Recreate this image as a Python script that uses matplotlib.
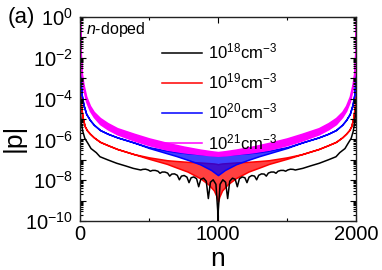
import numpy as np
import matplotlib
matplotlib.use("Agg")
import matplotlib.pyplot as plt
from matplotlib.lines import Line2D
from matplotlib.ticker import LogLocator, FuncFormatter, FixedLocator, NullFormatter

plt.rcParams['font.family'] = ['Liberation Sans', 'DejaVu Sans']
plt.rcParams['mathtext.fontset'] = 'custom'
plt.rcParams['mathtext.rm'] = 'Liberation Sans'
plt.rcParams['mathtext.it'] = 'Liberation Sans:italic'

# ---- data (left half, n = 0..1000, log10|p|); right half is the mirror image ----
mag_n   = [0, 6, 12, 25, 45, 72, 100, 145, 200, 270, 390, 500, 630, 750, 870, 950, 1000]
mag_up  = [0, -1.8, -2.7, -3.3, -3.9, -4.35, -4.65, -4.95, -5.2, -5.45, -5.72, -5.95, -6.17, -6.35, -6.5, -6.58, -6.62]
mag_low = [0, -2.0, -2.9, -3.55, -4.15, -4.6, -4.9, -5.25, -5.5, -5.75, -6.05, -6.28, -6.5, -6.63, -6.72, -6.78, -6.8]

blue_n   = [0, 12, 25, 45, 72, 100, 145, 200, 270, 390, 500, 630, 700, 780, 870, 950, 1000]
blue_up  = [-2.8, -3.8, -4.3, -4.75, -5.05, -5.28, -5.54, -5.72, -5.9, -6.15, -6.38, -6.55, -6.62, -6.68, -6.72, -6.76, -6.78]
blue_low = [-2.8, -3.8, -4.3, -4.75, -5.05, -5.28, -5.54, -5.72, -5.9, -6.15, -6.42, -6.68, -6.82, -7.0, -7.22, -7.5, -7.75]

red_n   = [0, 10, 20, 34, 50, 72, 100, 145, 200, 270, 390, 500, 630, 700, 780, 870, 930, 970, 990, 1000]
red_up  = [-3.8, -4.5, -4.95, -5.35, -5.55, -5.72, -5.9, -6.12, -6.28, -6.47, -6.72, -6.88, -7.02, -7.06, -7.1, -7.13, -7.16, -7.18, -7.2, -7.22]
red_low = [-3.8, -4.5, -4.95, -5.35, -5.55, -5.72, -5.9, -6.12, -6.28, -6.47, -6.72, -6.95, -7.2, -7.38, -7.58, -7.9, -8.2, -8.5, -8.8, -9.05]

black_n   = [0, 10, 20, 35, 58, 80, 118, 145, 200, 266, 330, 386, 440, 455, 475, 495, 510, 525, 545, 565,
             580, 595, 615, 635, 650, 665, 685, 705, 720, 735, 755, 775, 790, 805, 825, 845, 860, 875,
             895, 915, 930, 945, 965, 985, 998, 1000]
black_log = [-4.5, -5.2, -5.6, -5.95, -6.2, -6.45, -6.65, -6.85, -7.0, -7.17, -7.3, -7.42, -7.5, -7.47, -7.46, -7.5,
             -7.56, -7.52, -7.52, -7.56, -7.66, -7.6, -7.6, -7.65, -7.8, -7.7, -7.69, -7.76, -7.98, -7.8,
             -7.77, -7.85, -8.12, -7.88, -7.84, -7.93, -8.32, -7.96, -7.9, -8.05, -8.9, -8.1, -7.98, -8.2, -9.5, -12]

labels = [r'$10^{18}$cm$^{-3}$', r'$10^{19}$cm$^{-3}$', r'$10^{20}$cm$^{-3}$', r'$10^{21}$cm$^{-3}$']
colors = ['black', 'red', 'blue', 'magenta']
N_total = 2000


def mirror(n, v):
    n = np.asarray(n, float)
    v = np.asarray(v, float)
    nn = np.concatenate([n, (N_total - n[::-1])[1:]])
    vv = np.concatenate([v, v[::-1][1:]])
    return nn, 10.0 ** vv


fig = plt.figure(figsize=(3.82, 2.70), dpi=100)
ax = fig.add_axes([80/382, 1-221/270, 276/382, 204/270])

lw = 1.1
bn, bv = mirror(black_n, black_log)
ax.plot(bn, bv, color='black', lw=lw)

for n, up, low, c, a in [(red_n, red_up, red_low, 'red', 0.75),
                         (blue_n, blue_up, blue_low, 'blue', 0.75),
                         (mag_n, mag_up, mag_low, 'magenta', 1.0)]:
    nn, uu = mirror(n, up)
    _, ll = mirror(n, low)
    ax.fill_between(nn, ll, uu, facecolor=matplotlib.colors.to_rgba(c, a), edgecolor=c, lw=lw)

ax.set_yscale('log')
ax.set_xlim(0, 2000)
ax.set_ylim(1e-10, 1e0)

ax.xaxis.set_major_locator(FixedLocator([0, 1000, 2000]))
ax.xaxis.set_minor_locator(FixedLocator([500, 1500]))
ax.yaxis.set_major_locator(LogLocator(base=10, numticks=20))
ax.yaxis.set_minor_locator(LogLocator(base=10, subs=np.arange(2, 10), numticks=20))
ax.yaxis.set_minor_formatter(NullFormatter())


def yfmt(v, pos):
    e = int(round(np.log10(v)))
    return r'$10^{%d}$' % e if e % 2 == 0 else ''


ax.yaxis.set_major_formatter(FuncFormatter(yfmt))

ax.tick_params(which='both', direction='in', top=True, right=True, width=0.8)
ax.tick_params(which='major', length=4.5, labelsize=14.5)
ax.tick_params(axis='y', which='major', pad=5)
ax.tick_params(axis='x', which='major', pad=3)
ax.tick_params(which='minor', length=2.2)
for s in ax.spines.values():
    s.set_linewidth(1.0)
    s.set_color('#222222')

ax.set_xlabel('n', fontsize=19, labelpad=2)
ax.set_ylabel('|p|', fontsize=19)
ax.yaxis.set_label_coords(-0.196, 0.41)

fig.text(8/382, 1-18/270, '(a)', fontsize=16, va='center', ha='left')
ax.text(0.02, 0.985, r'$n$-doped', transform=ax.transAxes, fontsize=11.5, va='top', ha='left')

handles = [Line2D([], [], color=c, lw=lw) for c in colors]
ax.legend(handles, labels, loc='upper left', bbox_to_anchor=(0.297, 0.88), frameon=False,
          fontsize=12, handlelength=2.4, handletextpad=0.35, labelspacing=0.62, borderpad=0.0, borderaxespad=0.0)

fig.savefig('out.png', dpi=100)
